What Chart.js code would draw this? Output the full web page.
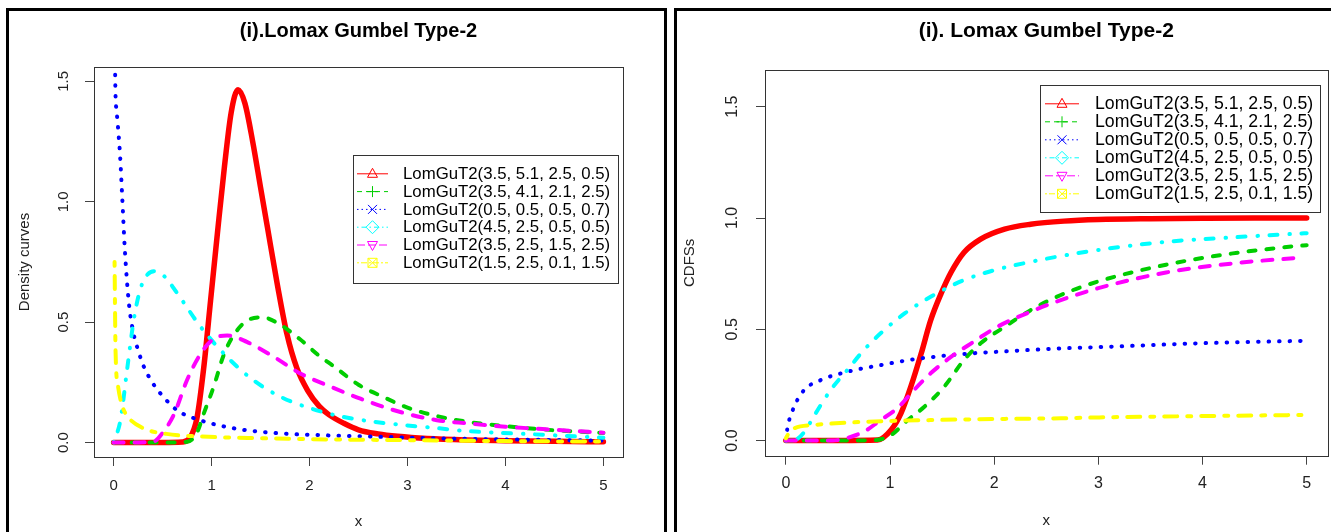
<!DOCTYPE html>
<html>
<head>
<meta charset="utf-8">
<script src="https://cdn.jsdelivr.net/npm/chart.js@4.4.0/dist/chart.umd.min.js"></script>
<style>
  html, body { margin: 0; padding: 0; background: #fff; overflow: hidden; }
  #wrap { position: relative; width: 1331px; height: 532px; }
  canvas { position: absolute; top: 0; }
  #pdfChart { left: 0; }
  #cdfChart { left: 670px; }
  .panel { position: absolute; border: 3px solid #000; border-bottom: none; pointer-events: none; }
</style>
</head>
<body>
<div id="wrap">
  <canvas id="pdfChart" width="670" height="532"></canvas>
  <canvas id="cdfChart" width="661" height="532"></canvas>
  <div class="panel" style="left:6px; top:8px; width:655px; height:530px;"></div>
  <div class="panel" style="left:674px; top:8px; width:670px; height:530px; border-right:none;"></div>
</div>
<script>
// legend names, same order in both panels
const seriesNames = [
  'LomGuT2(3.5, 5.1, 2.5, 0.5)',
  'LomGuT2(3.5, 4.1, 2.1, 2.5)',
  'LomGuT2(0.5, 0.5, 0.5, 0.7)',
  'LomGuT2(4.5, 2.5, 0.5, 0.5)',
  'LomGuT2(3.5, 2.5, 1.5, 2.5)',
  'LomGuT2(1.5, 2.5, 0.1, 1.5)'
];

const xTicks = [0, 1, 2, 3, 4, 5];
const yTicks = [0, 0.5, 1, 1.5];

// density curves
const pdfRedX = [0, 0.5, 0.7, 0.78, 0.85, 0.92, 0.99, 1.06, 1.13, 1.2, 1.27, 1.34, 1.42, 1.5, 1.57, 1.67, 1.77, 1.87, 1.98, 2.1, 2.2, 2.35, 2.5, 2.7, 2.9, 3.2, 3.6, 4.0, 4.5, 5.0];
const pdfRedY = [0, 0, 0.002, 0.02, 0.1, 0.31, 0.59, 0.87, 1.14, 1.37, 1.466, 1.41, 1.25, 1.06, 0.895, 0.66, 0.45, 0.31, 0.217, 0.15, 0.115, 0.08, 0.053, 0.036, 0.026, 0.017, 0.011, 0.008, 0.005, 0.003];
const pdfGreenX = [0, 0.5, 0.75, 0.85, 0.92, 1.02, 1.13, 1.26, 1.4, 1.52, 1.7, 1.9, 2.1, 2.25, 2.5, 2.75, 3.0, 3.3, 3.6, 4.0, 4.5, 5.0];
const pdfGreenY = [0, 0, 0.003, 0.04, 0.12, 0.23, 0.37, 0.466, 0.514, 0.52, 0.49, 0.43, 0.36, 0.316, 0.24, 0.19, 0.145, 0.11, 0.087, 0.068, 0.051, 0.04];
const pdfBlueX = [0.008, 0.015, 0.03, 0.065, 0.088, 0.115, 0.156, 0.2, 0.25, 0.31, 0.4, 0.48, 0.65, 0.89, 1.26, 1.67, 2.18, 2.8, 3.5, 4.2, 5.0];
const pdfBlueY = [2.4, 1.56, 1.38, 1.2, 1.02, 0.8, 0.58, 0.46, 0.384, 0.314, 0.247, 0.203, 0.134, 0.092, 0.057, 0.039, 0.03, 0.023, 0.016, 0.012, 0.008];
const pdfCyanX = [0, 0.07, 0.14, 0.21, 0.28, 0.35, 0.43, 0.52, 0.65, 0.89, 1.16, 1.43, 1.71, 2.01, 2.35, 2.83, 3.3, 3.6, 4.3, 5.0];
const pdfCyanY = [0, 0.093, 0.31, 0.52, 0.646, 0.7, 0.712, 0.69, 0.62, 0.48, 0.355, 0.258, 0.189, 0.142, 0.106, 0.078, 0.06, 0.048, 0.034, 0.02];
const pdfMagentaX = [0, 0.4, 0.5, 0.62, 0.75, 0.89, 1.02, 1.16, 1.36, 1.64, 1.91, 2.18, 2.52, 2.9, 3.3, 3.6, 4.0, 4.5, 5.0];
const pdfMagentaY = [0, 0.003, 0.04, 0.12, 0.26, 0.37, 0.43, 0.445, 0.418, 0.355, 0.286, 0.238, 0.182, 0.13, 0.093, 0.08, 0.066, 0.053, 0.041];
const pdfYellowX = [0.01, 0.02, 0.047, 0.09, 0.14, 0.3, 0.54, 0.9, 1.5, 2.2, 3.0, 4.0, 5.0];
const pdfYellowY = [0.75, 0.38, 0.23, 0.15, 0.11, 0.06, 0.036, 0.025, 0.018, 0.013, 0.01, 0.006, 0.004];

// CDF curves
const cdfRedX = [0, 0.5, 0.88, 1.01, 1.105, 1.2, 1.3, 1.39, 1.49, 1.585, 1.71, 1.87, 2.1, 2.35, 2.67, 3.0, 3.5, 4.0, 4.5, 5.0];
const cdfRedY = [0, 0, 0.002, 0.047, 0.122, 0.242, 0.392, 0.54, 0.66, 0.755, 0.845, 0.905, 0.95, 0.972, 0.986, 0.993, 0.997, 0.999, 1.0, 1.0];
const cdfGreenX = [0, 0.5, 0.85, 1.01, 1.17, 1.33, 1.52, 1.71, 1.87, 2.1, 2.35, 2.64, 3.0, 3.65, 4.29, 4.9, 5.0];
const cdfGreenY = [0, 0, 0.002, 0.025, 0.092, 0.152, 0.242, 0.362, 0.437, 0.511, 0.586, 0.654, 0.715, 0.79, 0.841, 0.874, 0.878];
const cdfBlueX = [0, 0.015, 0.08, 0.176, 0.336, 0.59, 0.91, 1.23, 1.71, 2.19, 2.64, 3.01, 3.97, 4.95];
const cdfBlueY = [0, 0.055, 0.152, 0.227, 0.272, 0.309, 0.339, 0.365, 0.389, 0.403, 0.414, 0.42, 0.437, 0.448];
const cdfCyanX = [0, 0.1, 0.18, 0.27, 0.43, 0.59, 0.75, 0.91, 1.14, 1.39, 1.71, 2.03, 2.35, 2.64, 3.01, 3.65, 4.29, 5.0];
const cdfCyanY = [0, 0.005, 0.04, 0.11, 0.227, 0.317, 0.407, 0.482, 0.571, 0.646, 0.721, 0.769, 0.803, 0.829, 0.857, 0.893, 0.913, 0.932];
const cdfMagentaX = [0, 0.45, 0.53, 0.75, 0.91, 1.07, 1.23, 1.39, 1.585, 1.78, 2.03, 2.35, 2.64, 3.0, 3.65, 4.29, 4.97];
const cdfMagentaY = [0, 0, 0.005, 0.04, 0.092, 0.145, 0.227, 0.302, 0.376, 0.437, 0.511, 0.579, 0.631, 0.685, 0.755, 0.796, 0.823];
const cdfYellowX = [0, 0.05, 0.27, 0.75, 1.39, 2.03, 2.64, 3.01, 4.0, 4.95];
const cdfYellowY = [0.01, 0.047, 0.07, 0.084, 0.092, 0.097, 0.1, 0.104, 0.11, 0.115];

const pdfSeries = [[pdfRedX, pdfRedY], [pdfGreenX, pdfGreenY], [pdfBlueX, pdfBlueY], [pdfCyanX, pdfCyanY], [pdfMagentaX, pdfMagentaY], [pdfYellowX, pdfYellowY]];
const cdfSeries = [[cdfRedX, cdfRedY], [cdfGreenX, cdfGreenY], [cdfBlueX, cdfBlueY], [cdfCyanX, cdfCyanY], [cdfMagentaX, cdfMagentaY], [cdfYellowX, cdfYellowY]];

// R style: colour, lwd, lty (round caps), pch
const styles = [
  { color: '#FF0000', width: 5.5, dash: [],               legDash: [],             marker: 'triangle' },
  { color: '#00CD00', width: 4,   dash: [7, 11],          legDash: [5, 4],         marker: 'plus' },
  { color: '#0000FF', width: 4,   dash: [0.5, 10],        legDash: [1.5, 3],       marker: 'cross' },
  { color: '#00FFFF', width: 4,   dash: [0.5, 11.5, 8, 12], legDash: [1.5, 3, 5, 3], marker: 'diamond' },
  { color: '#FF00FF', width: 4,   dash: [10, 11],         legDash: [8, 3],         marker: 'triangleDown' },
  { color: '#FFFF00', width: 4,   dash: [4, 10, 13, 10],  legDash: [2, 2, 6, 2],   marker: 'squareCross' }
];

const fontFamily = '"Liberation Sans", Arial, sans-serif';
Chart.defaults.font.family = fontFamily;
Chart.defaults.color = '#222';

function makeDatasets(series) {
  return series.map((s, i) => ({
    label: seriesNames[i],
    data: s[0].map((x, k) => ({ x: x, y: s[1][k] })),
    borderColor: styles[i].color,
    borderWidth: styles[i].width,
    borderDash: styles[i].dash,
    borderCapStyle: 'round',
    borderJoinStyle: 'round',
    pointRadius: 0,
    fill: false,
    cubicInterpolationMode: 'monotone',
    clip: 0,
    order: 5 - i
  }));
}

function drawMarker(ctx, shape, x, y, s) {
  const h = s / 2;
  ctx.beginPath();
  if (shape === 'triangle') {
    ctx.moveTo(x, y - h - 1); ctx.lineTo(x + h + 0.5, y + h - 1); ctx.lineTo(x - h - 0.5, y + h - 1); ctx.closePath();
  } else if (shape === 'triangleDown') {
    ctx.moveTo(x, y + h + 1); ctx.lineTo(x + h + 0.5, y - h + 1); ctx.lineTo(x - h - 0.5, y - h + 1); ctx.closePath();
  } else if (shape === 'plus') {
    ctx.moveTo(x - h - 1, y); ctx.lineTo(x + h + 1, y); ctx.moveTo(x, y - h - 1); ctx.lineTo(x, y + h + 1);
  } else if (shape === 'cross') {
    ctx.moveTo(x - h, y - h); ctx.lineTo(x + h, y + h); ctx.moveTo(x + h, y - h); ctx.lineTo(x - h, y + h);
  } else if (shape === 'diamond') {
    ctx.moveTo(x, y - h - 2); ctx.lineTo(x + h + 2, y); ctx.lineTo(x, y + h + 2); ctx.lineTo(x - h - 2, y); ctx.closePath();
  } else if (shape === 'squareCross') {
    ctx.rect(x - h, y - h, s, s);
    ctx.moveTo(x - h, y - h); ctx.lineTo(x + h, y + h); ctx.moveTo(x + h, y - h); ctx.lineTo(x - h, y + h);
  }
  ctx.stroke();
}

// plot frame (box()) and the legend box drawn inside the plot
const rDecor = {
  id: 'rDecor',
  afterDraw(chart, args, opts) {
    const ctx = chart.ctx;
    const a = chart.chartArea;
    ctx.save();
    ctx.setLineDash([]);
    ctx.strokeStyle = '#333';
    ctx.lineWidth = 1;
    ctx.strokeRect(Math.round(a.left) + 0.5, Math.round(a.top) + 0.5, Math.round(a.right - a.left), Math.round(a.bottom - a.top));

    const L = opts.legend;
    ctx.fillStyle = '#fff';
    ctx.fillRect(L.x, L.y, L.w, L.h);
    ctx.strokeStyle = '#333';
    ctx.strokeRect(L.x + 0.5, L.y + 0.5, L.w, L.h);
    ctx.font = L.fontSize + 'px ' + fontFamily;
    ctx.textBaseline = 'middle';
    ctx.textAlign = 'left';
    seriesNames.forEach((name, i) => {
      const y = L.row0 + i * L.rowStep;
      const st = styles[i];
      ctx.strokeStyle = st.color;
      ctx.lineWidth = 1;
      ctx.setLineDash(st.legDash);
      ctx.beginPath();
      ctx.moveTo(L.lineX0, y + 0.5);
      ctx.lineTo(L.lineX1, y + 0.5);
      ctx.stroke();
      ctx.setLineDash([]);
      drawMarker(ctx, st.marker, (L.lineX0 + L.lineX1) / 2, y + 0.5, 9);
      ctx.fillStyle = '#000';
      ctx.fillText(name, L.textX, y + 1);
    });
    ctx.restore();
  }
};

function makeOptions(cfg) {
  return {
    responsive: false,
    animation: false,
    devicePixelRatio: 1,
    layout: { padding: { left: 0, right: cfg.padRight, top: 0, bottom: 0 } },
    plugins: {
      legend: { display: false },
      tooltip: { enabled: false },
      title: {
        display: true,
        text: cfg.title,
        color: '#000',
        fullSize: false,
        font: { size: cfg.titleSize, weight: 'bold', lineHeight: 1 },
        padding: { top: cfg.titleTop, bottom: cfg.titleBottom }
      },
      rDecor: { legend: cfg.legend }
    },
    scales: {
      x: {
        type: 'linear',
        min: -0.2,
        max: 5.2,
        afterBuildTicks: (s) => { s.ticks = xTicks.map(v => ({ value: v })); },
        afterFit: (s) => { s.height = cfg.xHeight; },
        border: { display: false },
        grid: { display: true, drawOnChartArea: false, drawTicks: true, tickLength: 9, color: '#444' },
        ticks: { font: { size: cfg.tickSize }, color: '#222', padding: cfg.xTickPad, callback: (v) => String(v) },
        title: { display: true, text: 'x', color: '#222', font: { size: 15 }, padding: { top: 0, bottom: cfg.xTitlePad } }
      },
      y: {
        type: 'linear',
        min: cfg.yMin,
        max: cfg.yMax,
        afterBuildTicks: (s) => { s.ticks = yTicks.map(v => ({ value: v })); },
        afterFit: (s) => { s.width = cfg.yWidth; },
        border: { display: false },
        grid: { display: true, drawOnChartArea: false, drawTicks: true, tickLength: 9, color: '#444' },
        ticks: { font: { size: cfg.tickSize }, color: '#222', minRotation: 90, maxRotation: 90, crossAlign: 'center', padding: cfg.yTickPad, callback: (v) => v.toFixed(1) },
        title: { display: true, text: cfg.yTitle, color: '#222', font: { size: 15 }, padding: { top: cfg.yTitlePad, bottom: 0 } }
      }
    }
  };
}

new Chart(document.getElementById('pdfChart'), {
  type: 'line',
  data: { datasets: makeDatasets(pdfSeries) },
  options: makeOptions({
    title: '(i).Lomax Gumbel Type-2', titleSize: 20, titleTop: 21.5, titleBottom: 25.5,
    padRight: 47, xHeight: 75, yWidth: 94, yMin: -0.060, yMax: 1.560,
    tickSize: 15, xTickPad: 11, yTickPad: 11, xTitlePad: 1,
    yTitle: 'Density curves', yTitlePad: 16,
    legend: { x: 353, y: 155, w: 265, h: 128, row0: 173.3, rowStep: 17.8, lineX0: 357, lineX1: 388, textX: 403, fontSize: 16.8 }
  }),
  plugins: [rDecor]
});

new Chart(document.getElementById('cdfChart'), {
  type: 'line',
  data: { datasets: makeDatasets(cdfSeries) },
  options: makeOptions({
    title: '(i). Lomax Gumbel Type-2', titleSize: 21, titleTop: 21.2, titleBottom: 27.8,
    padRight: 3.5, xHeight: 76.3, yWidth: 95, yMin: -0.068, yMax: 1.665,
    tickSize: 16, xTickPad: 9, yTickPad: 12, xTitlePad: 2,
    yTitle: 'CDFSs', yTitlePad: 11,
    legend: { x: 370, y: 85, w: 280, h: 127, row0: 103.3, rowStep: 18, lineX0: 375, lineX1: 409, textX: 425, fontSize: 17.7 }
  }),
  plugins: [rDecor]
});
</script>
</body>
</html>
